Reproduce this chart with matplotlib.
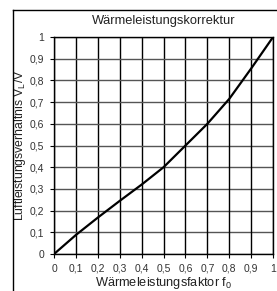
import matplotlib
matplotlib.use("Agg")
import matplotlib.pyplot as plt
from matplotlib.lines import Line2D
import numpy as np

plt.rcParams['font.family'] = ['Liberation Sans Narrow', 'Liberation Sans', 'DejaVu Sans']

# data
f0 = [0, 0.1, 0.2, 0.3, 0.4, 0.5, 0.6, 0.7, 0.8, 0.9, 1.0]
vl = [0, 0.088, 0.168, 0.245, 0.32, 0.40, 0.50, 0.60, 0.715, 0.855, 1.0]
ticks = [0, 0.1, 0.2, 0.3, 0.4, 0.5, 0.6, 0.7, 0.8, 0.9, 1.0]
tick_labels = ["0", "0,1", "0,2", "0,3", "0,4", "0,5", "0,6", "0,7", "0,8", "0,9", "1"]

fig = plt.figure(figsize=(2.77, 2.91), dpi=100)
ax = fig.add_axes([0.195, 0.127, 0.791, 0.746])

# grid: vertical black, horizontal grey
for t in ticks:
    ax.axvline(t, color="black", lw=1.0, zorder=1)
    ax.axhline(t, color="#555555", lw=1.0, zorder=1)

ax.plot(f0, vl, color="black", lw=1.6, zorder=3)

ax.set_xlim(0, 1)
ax.set_ylim(0, 1)
ax.set_xticks(ticks)
ax.set_xticklabels(tick_labels)
ax.set_yticks(ticks)
ax.set_yticklabels(tick_labels)
ax.tick_params(length=3, width=0.8, labelsize=7.5, pad=4, colors="black")
ax.tick_params(labelcolor="#333333")
for s in ax.spines.values():
    s.set_linewidth(1.0)

ax.set_title("Wärmeleistungskorrektur", fontsize=9.3, pad=9, color="#222222")
ax.set_xlabel(r"Wärmeleistungsfaktor f$_\mathregular{0}$", fontsize=9.2, labelpad=1, color="#222222")
ax.set_ylabel(r"Luftleistungsverhältnis V$_\mathregular{L}$/V", fontsize=8.8, labelpad=1, color="#222222")

# outer frame (left and top)
fig.add_artist(Line2D([13/277, 13/277], [0, 1 - 10/291], color="black", lw=1.0, transform=fig.transFigure))
fig.add_artist(Line2D([13/277, 1], [1 - 10/291, 1 - 10/291], color="black", lw=1.0, transform=fig.transFigure))

fig.savefig("out.png", dpi=100)
